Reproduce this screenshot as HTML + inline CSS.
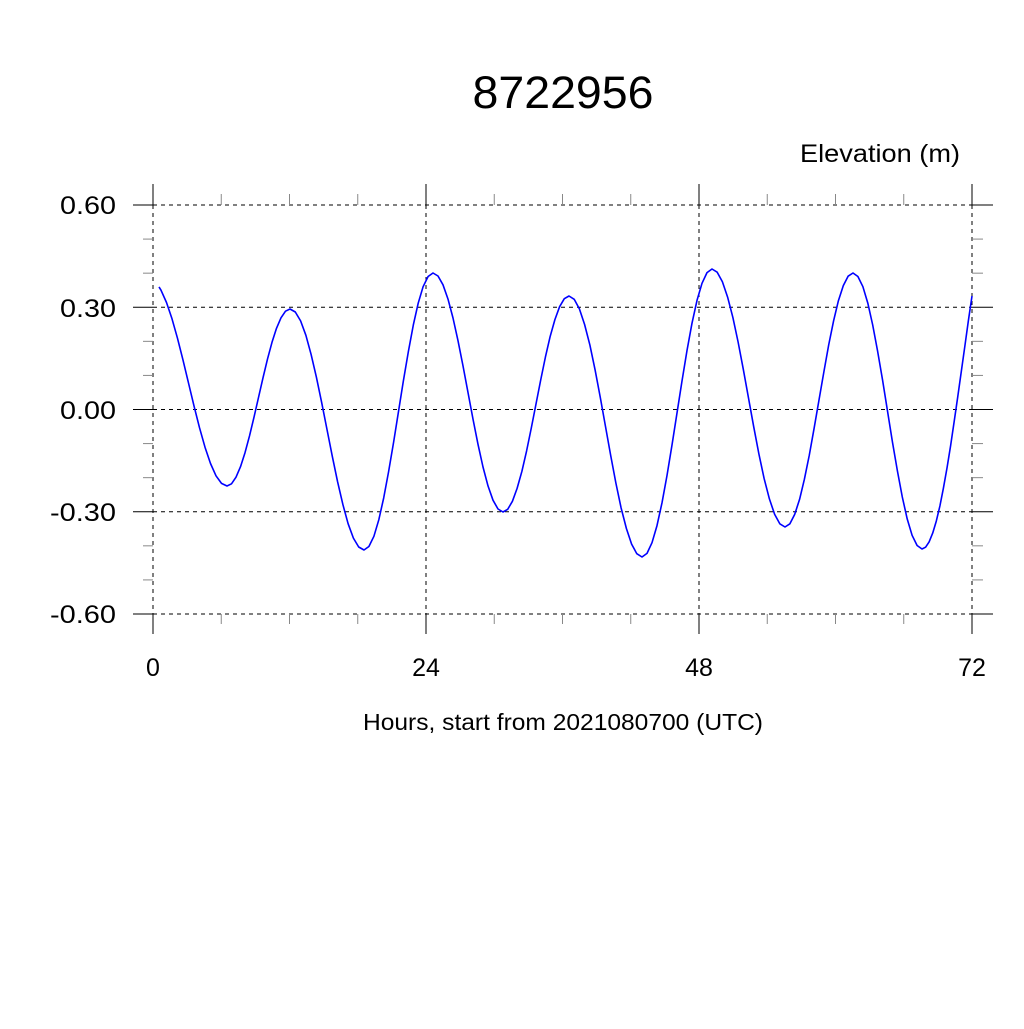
<!DOCTYPE html>
<html><head><meta charset="utf-8"><style>
html,body{margin:0;padding:0;background:#fff}
svg text{font-family:"Liberation Sans",sans-serif;fill:#000}
</style></head><body>
<svg id="s" width="1024" height="1024" viewBox="0 0 1024 1024" xmlns="http://www.w3.org/2000/svg">
<rect width="1024" height="1024" fill="#fff"/>
<text x="563" y="108" font-size="45" text-anchor="middle" textLength="181" lengthAdjust="spacingAndGlyphs">8722956</text>
<text x="960" y="162" font-size="25" text-anchor="end" textLength="160" lengthAdjust="spacingAndGlyphs">Elevation (m)</text>
<text x="563" y="730" font-size="23" text-anchor="middle" textLength="400" lengthAdjust="spacingAndGlyphs">Hours, start from 2021080700 (UTC)</text>
<g font-size="25" text-anchor="end">
<text x="116" y="214" textLength="56" lengthAdjust="spacingAndGlyphs">0.60</text>
<text x="116" y="317" textLength="56" lengthAdjust="spacingAndGlyphs">0.30</text>
<text x="116" y="419" textLength="56" lengthAdjust="spacingAndGlyphs">0.00</text>
<text x="116" y="521" textLength="66" lengthAdjust="spacingAndGlyphs">-0.30</text>
<text x="116" y="623" textLength="66" lengthAdjust="spacingAndGlyphs">-0.60</text>
</g>
<g font-size="25" text-anchor="middle">
<text x="153" y="676">0</text>
<text x="426" y="676">24</text>
<text x="699" y="676">48</text>
<text x="972" y="676">72</text>
</g>
<g id="grid" stroke="#000" stroke-width="1" fill="none"></g>
<polyline id="curve" fill="none" stroke="#0000ff" stroke-width="1.6" stroke-linejoin="round"/>
</svg>
<script>
(function(){
var NS="http://www.w3.org/2000/svg",g=document.getElementById("grid");
function ln(x1,y1,x2,y2,dash,col){var l=document.createElementNS(NS,"line");l.setAttribute("x1",x1);l.setAttribute("y1",y1);l.setAttribute("x2",x2);l.setAttribute("y2",y2);if(dash)l.setAttribute("stroke-dasharray","4,4");if(col)l.setAttribute("stroke",col);g.appendChild(l);}
var L=153,R=972,T=205,B=614;
[205,307.25,409.5,511.75,614].forEach(function(y){ln(L,y,R,y,true);ln(133,y,L,y);ln(R,y,993,y);});
[153,426,699,972].forEach(function(x){ln(x,T,x,B,true);ln(x,184,x,T);ln(x,B,x,634);});
for(var i=1;i<12;i++){if(i%4==0)continue;var x=L+i*(R-L)/12;ln(x,194,x,T,false,"#888");ln(x,B,x,624,false,"#888");}
for(var j=1;j<12;j++){if(j%3==0)continue;var y=T+j*(B-T)/12;ln(143,y,L,y,false,"#888");ln(R,y,983,y,false,"#888");}
var pts=[[150,280],[227,486],[290,309],[364,550],[433,273],[503,512],[569,296],[642,557],[712,269],[785,527],[853,273],[922,549],[972,296]];
var out=[];
for(var k=0;k<pts.length-1;k++){
 var a=pts[k],b=pts[k+1];
 var isLast=(k==pts.length-2);
 var n=14;
 for(var s=0;s<=n;s++){
  var t=s/n;
  var x=a[0]+(b[0]-a[0])*t;
  var y;
  if(isLast){
   y=a[1]+(215-a[1])*(1-Math.cos(Math.PI*t*0.62))/(1-Math.cos(Math.PI*0.62))*((b[1]-a[1])/(215-a[1]));
  } else y=a[1]+(b[1]-a[1])*(1-Math.cos(Math.PI*t))/2;
  if(x<159){ if(k==0&&s==0){} continue;}
  out.push(x.toFixed(1)+","+y.toFixed(1));
 }
 if(k==0){var tt=9/77;out.unshift("159,"+(280+206*(1-Math.cos(Math.PI*tt))/2).toFixed(1));}
}
document.getElementById("curve").setAttribute("points",out.join(" "));
})();
</script>
</body></html>
